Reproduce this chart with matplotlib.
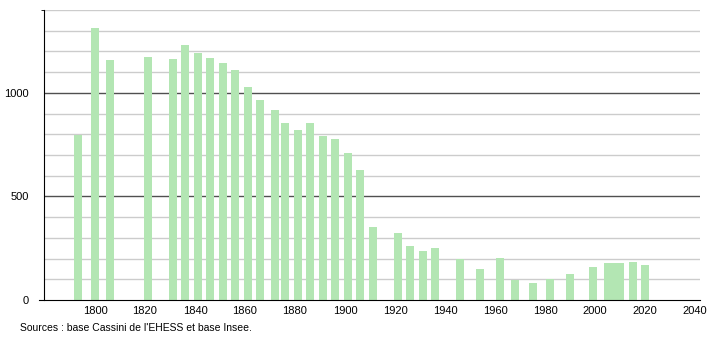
import matplotlib.pyplot as plt

plt.rcParams["font.family"] = ["Liberation Sans", "DejaVu Sans"]

YEARS = [
    1793, 1800, 1806, 1821, 1831, 1836, 1841, 1846, 1851, 1856,
    1861, 1866, 1872, 1876, 1881, 1886, 1891, 1896, 1901, 1906,
    1911, 1921, 1926, 1931, 1936, 1946, 1954, 1962, 1968, 1975,
    1982, 1990, 1999, 2005, 2008, 2010, 2015, 2020,
]

POPULATION = [
    795, 1311, 1161, 1171, 1165, 1229, 1190, 1166, 1144, 1108,
    1027, 965, 919, 855, 823, 855, 790, 779, 711, 629,
    352, 324, 261, 237, 250, 197, 150, 205, 97, 81,
    102, 126, 158, 177, 177, 181, 185, 170,
]

X_TICKS = list(range(1800, 2041, 20))
Y_TICKS = [0, 500, 1000]

SOURCE = "Sources : base Cassini de l'EHESS et base Insee."


def main() -> None:
    figure = plt.figure(figsize=(7.1, 3.4), dpi=100)
    axis = figure.add_axes([44 / 710, 40 / 340, 656 / 710, 290 / 340])

    for value in range(100, 1401, 100):
        axis.axhline(
            value,
            color="#505050" if value % 500 == 0 else "#cccccc",
            linewidth=1.0,
            zorder=1,
        )

    axis.bar(
        YEARS,
        POPULATION,
        width=3.2,
        color="#b3e6b3",
        linewidth=0,
        zorder=2,
    )

    axis.set_xlim(1779.6, 2042)
    axis.set_ylim(0, 1400)

    axis.set_xticks(X_TICKS)
    axis.set_xticklabels([str(year) for year in X_TICKS])
    axis.set_yticks(Y_TICKS)
    axis.set_yticklabels([str(value) for value in Y_TICKS])
    axis.set_yticks([1400], minor=True)

    axis.tick_params(axis="x", length=0, pad=4, labelsize=8)
    axis.tick_params(axis="y", which="major", length=0, pad=11, labelsize=8)
    axis.tick_params(axis="y", which="minor", length=2, color="black")

    for side in ["top", "right"]:
        axis.spines[side].set_visible(False)

    axis.spines["left"].set_color("black")
    axis.spines["bottom"].set_color("black")
    axis.spines["bottom"].set_bounds(1777.6, 2042)

    figure.text(
        20 / 710,
        1 - 328 / 340,
        SOURCE,
        fontsize=7.5,
        va="center",
        ha="left",
    )

    figure.savefig("out.png", dpi=100)
    plt.close(figure)


if __name__ == "__main__":
    main()
